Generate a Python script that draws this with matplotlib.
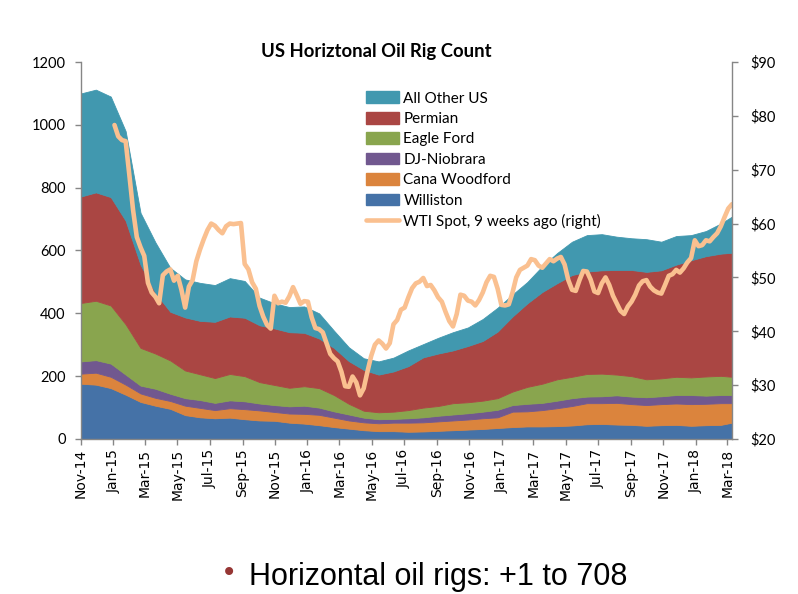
import matplotlib
matplotlib.use('Agg')
import matplotlib.pyplot as plt
from matplotlib.patches import Patch
from matplotlib.lines import Line2D
import pandas as pd

# ---------------- data ----------------
stack_dates = ['2014-11-07', '2014-12-05', '2015-01-02', '2015-01-30', '2015-02-27',
               '2015-03-27', '2015-04-24', '2015-05-22', '2015-06-19', '2015-07-17',
               '2015-08-14', '2015-09-11', '2015-10-09', '2015-11-06', '2015-12-04',
               '2016-01-01', '2016-01-29', '2016-02-26', '2016-03-25', '2016-04-22',
               '2016-05-20', '2016-06-17', '2016-07-15', '2016-08-12', '2016-09-09',
               '2016-10-07', '2016-11-04', '2016-12-02', '2016-12-30', '2017-01-27',
               '2017-02-24', '2017-03-24', '2017-04-21', '2017-05-19', '2017-06-16',
               '2017-07-14', '2017-08-11', '2017-09-08', '2017-10-06', '2017-11-03',
               '2017-12-01', '2017-12-29', '2018-01-26', '2018-02-23', '2018-03-16']

williston = [176, 173, 162, 141, 118, 106, 96, 76, 69, 66, 68, 63, 59, 58, 52,
             49, 44, 38, 33, 28, 25, 25, 23, 24, 26, 28, 30, 32, 35, 38,
             40, 40, 41, 43, 47, 48, 46, 45, 42, 44, 45, 42, 44, 45, 52]
cana_woodford = [32, 38, 36, 32, 27, 25, 25, 30, 30, 26, 30, 32, 32, 28, 29,
                 31, 33, 30, 26, 25, 25, 27, 29, 29, 30, 31, 32, 34, 34, 49,
                 48, 52, 57, 62, 67, 66, 69, 66, 66, 67, 68, 69, 68, 69, 62]
dj_niobrara = [39, 40, 42, 32, 25, 29, 23, 24, 25, 23, 25, 25, 22, 22, 23,
               26, 23, 20, 19, 15, 13, 12, 14, 16, 18, 19, 20, 21, 24, 21,
               24, 23, 24, 25, 21, 22, 24, 24, 25, 25, 27, 29, 26, 26, 26]
eagle_ford = [186, 189, 185, 160, 120, 112, 106, 88, 82, 79, 84, 80, 68, 64, 59,
              62, 62, 52, 34, 22, 22, 23, 26, 31, 31, 36, 35, 35, 37, 43,
              54, 61, 68, 68, 72, 72, 66, 65, 57, 57, 58, 56, 61, 61, 58]
permian = [339, 345, 345, 330, 265, 193, 155, 169, 170, 179, 183, 186, 181, 180, 177,
           170, 158, 150, 136, 130, 120, 128, 140, 160, 167, 168, 179, 190, 212, 239,
           266, 292, 306, 324, 326, 329, 333, 338, 342, 344, 357, 373, 383, 389, 395]
all_other = [328, 327, 320, 285, 165, 161, 140, 121, 121, 117, 122, 117, 88, 80, 80,
             84, 80, 55, 44, 37, 42, 44, 50, 42, 50, 58, 59, 70, 76, 70,
             68, 82, 96, 106, 116, 115, 106, 101, 104, 91, 91, 80, 80, 96, 115]

wti_start = '2015-01-09'   # weekly, WTI spot 9 weeks earlier
wti = [78.3, 76.2, 75.5, 75.3, 69.0, 62.5, 57.5, 55.6, 54.0, 49.0,
       47.2, 46.4, 45.2, 50.4, 51.1, 51.5, 49.4, 50.3, 47.7, 44.4,
       48.3, 49.5, 53.0, 55.2, 57.1, 58.8, 60.0, 59.6, 58.8, 58.2,
       59.5, 60.0, 59.9, 60.0, 60.1, 52.5, 51.5, 49.1, 47.9, 44.7,
       42.7, 41.2, 40.5, 46.6, 45.2, 45.5, 45.3, 46.5, 48.2, 46.7,
       45.1, 45.6, 45.5, 42.6, 40.6, 40.4, 39.8, 37.8, 35.8, 35.0,
       34.4, 32.5, 29.8, 29.7, 31.6, 30.5, 28.1, 29.4, 32.5, 35.4,
       37.5, 38.3, 37.7, 36.8, 37.8, 41.3, 42.1, 44.0, 44.4, 46.3,
       48.0, 48.9, 49.2, 49.9, 48.4, 48.6, 47.6, 46.3, 45.5, 43.6,
       41.9, 40.9, 43.2, 46.8, 46.6, 45.7, 45.5, 44.8, 45.8, 47.2,
       49.1, 50.3, 50.1, 47.9, 44.9, 44.8, 45.0, 47.2, 50.0, 51.4,
       51.8, 52.2, 53.4, 53.2, 52.2, 51.8, 52.6, 53.4, 53.0, 53.5,
       53.8, 52.4, 49.5, 47.7, 47.5, 49.5, 51.2, 51.1, 49.6, 47.4,
       47.1, 48.9, 50.0, 48.6, 46.6, 45.2, 43.8, 43.2, 44.6, 45.5,
       46.8, 48.5, 49.3, 49.5, 48.3, 47.6, 47.2, 47.0, 48.6, 50.3,
       50.6, 51.4, 50.9, 51.7, 52.8, 53.6, 56.9, 55.8, 56.0, 56.9,
       56.7, 57.5, 58.2, 59.5, 61.2, 62.8, 63.6]

tick_dates = ['2014-11-07', '2015-01-07', '2015-03-07', '2015-05-07', '2015-07-07',
              '2015-09-07', '2015-11-07', '2016-01-07', '2016-03-07', '2016-05-07',
              '2016-07-07', '2016-09-07', '2016-11-07', '2017-01-07', '2017-03-07',
              '2017-05-07', '2017-07-07', '2017-09-07', '2017-11-07', '2018-01-07',
              '2018-03-07']
tick_labels = ['Nov-14', 'Jan-15', 'Mar-15', 'May-15', 'Jul-15', 'Sep-15', 'Nov-15',
               'Jan-16', 'Mar-16', 'May-16', 'Jul-16', 'Sep-16', 'Nov-16', 'Jan-17',
               'Mar-17', 'May-17', 'Jul-17', 'Sep-17', 'Nov-17', 'Jan-18', 'Mar-18']
left_ticks = [0, 200, 400, 600, 800, 1000, 1200]
right_ticks = [20, 30, 40, 50, 60, 70, 80, 90]

series_names = ['Williston', 'Cana Woodford', 'DJ-Niobrara', 'Eagle Ford', 'Permian', 'All Other US']
series_colors = ['#4572A7', '#DB843D', '#71588F', '#89A54E', '#AA4643', '#4198AF']
wti_label = 'WTI Spot, 9 weeks ago (right)'
wti_color = '#FAC090'
title = 'US Horiztonal Oil Rig Count'
bullet_text = 'Horizontal oil rigs: +1 to 708'

# ---------------- figure ----------------
W, H = 798, 594
fig = plt.figure(figsize=(W / 100, H / 100), dpi=100)
fig.patch.set_facecolor('white')
ax = fig.add_axes([81 / W, 1 - 439 / H, 651 / W, 377 / H])

spine_c = '#868686'
d = pd.to_datetime(stack_dates)
polys = ax.stackplot(d, williston, cana_woodford, dj_niobrara, eagle_ford, permian, all_other,
                     colors=series_colors, linewidth=0)
for p, c in zip(polys, series_colors):
    p.set_edgecolor(c)
    p.set_linewidth(0.6)

ax.set_xlim(d[0], d[-1])
ax.set_ylim(0, 1200)
ax.set_yticks(left_ticks)
ax.set_yticklabels([str(v) for v in left_ticks], family='Lato', fontsize=10.5)
ax.set_xticks(pd.to_datetime(tick_dates))
ax.set_xticklabels(tick_labels, rotation=90, family='DejaVu Sans', fontsize=10)
ax.tick_params(axis='y', direction='out', length=4, width=1, color=spine_c, pad=7)
ax.tick_params(axis='x', direction='out', length=4, width=1, color=spine_c, pad=3)
for s in ['top', 'right']:
    ax.spines[s].set_visible(False)
for s in ['left', 'bottom']:
    ax.spines[s].set_color(spine_c)
    ax.spines[s].set_linewidth(1)

ax2 = ax.twinx()
wd = pd.date_range(wti_start, periods=len(wti), freq='7D')
ax2.plot(wd, wti, color=wti_color, lw=3.3, solid_joinstyle='round', solid_capstyle='round')
ax2.set_ylim(20, 90)
ax2.set_yticks(right_ticks)
ax2.set_yticklabels(['$%d' % v for v in right_ticks], family='Lato', fontsize=10.5)
ax2.tick_params(axis='y', direction='out', length=4, width=1, color=spine_c, pad=9)
for s in ['top', 'left', 'bottom']:
    ax2.spines[s].set_visible(False)
ax2.spines['right'].set_color(spine_c)
ax2.spines['right'].set_linewidth(1)
ax2.set_xlim(d[0], d[-1])

# legend
handles = [Patch(facecolor=c, edgecolor=c) for c in series_colors[::-1]]
handles.append(Line2D([0], [0], color=wti_color, lw=3.3, solid_capstyle='round'))
labels = series_names[::-1] + [wti_label]
fig.legend(handles, labels, loc='upper left', bbox_to_anchor=(366 / W, 1 - 91.5 / H),
           frameon=False, borderpad=0, borderaxespad=0, handlelength=2.15,
           handleheight=0.8, handletextpad=0.3, labelspacing=0.41,
           prop={'family': 'Lato', 'size': 11})

fig.text(376 / W, 1 - 52 / H, title, ha='center', va='center',
         family='Lato', fontweight='bold', fontsize=13.3)

fig.text(229 / W, 1 - 573 / H, '\u2022', ha='center', va='center', color='#963634',
         fontsize=20, family='DejaVu Sans')
fig.text(249 / W, 9 / H, bullet_text, ha='left', va='baseline',
         family='Liberation Sans', fontsize=22)

fig.savefig('out.png', dpi=100)
